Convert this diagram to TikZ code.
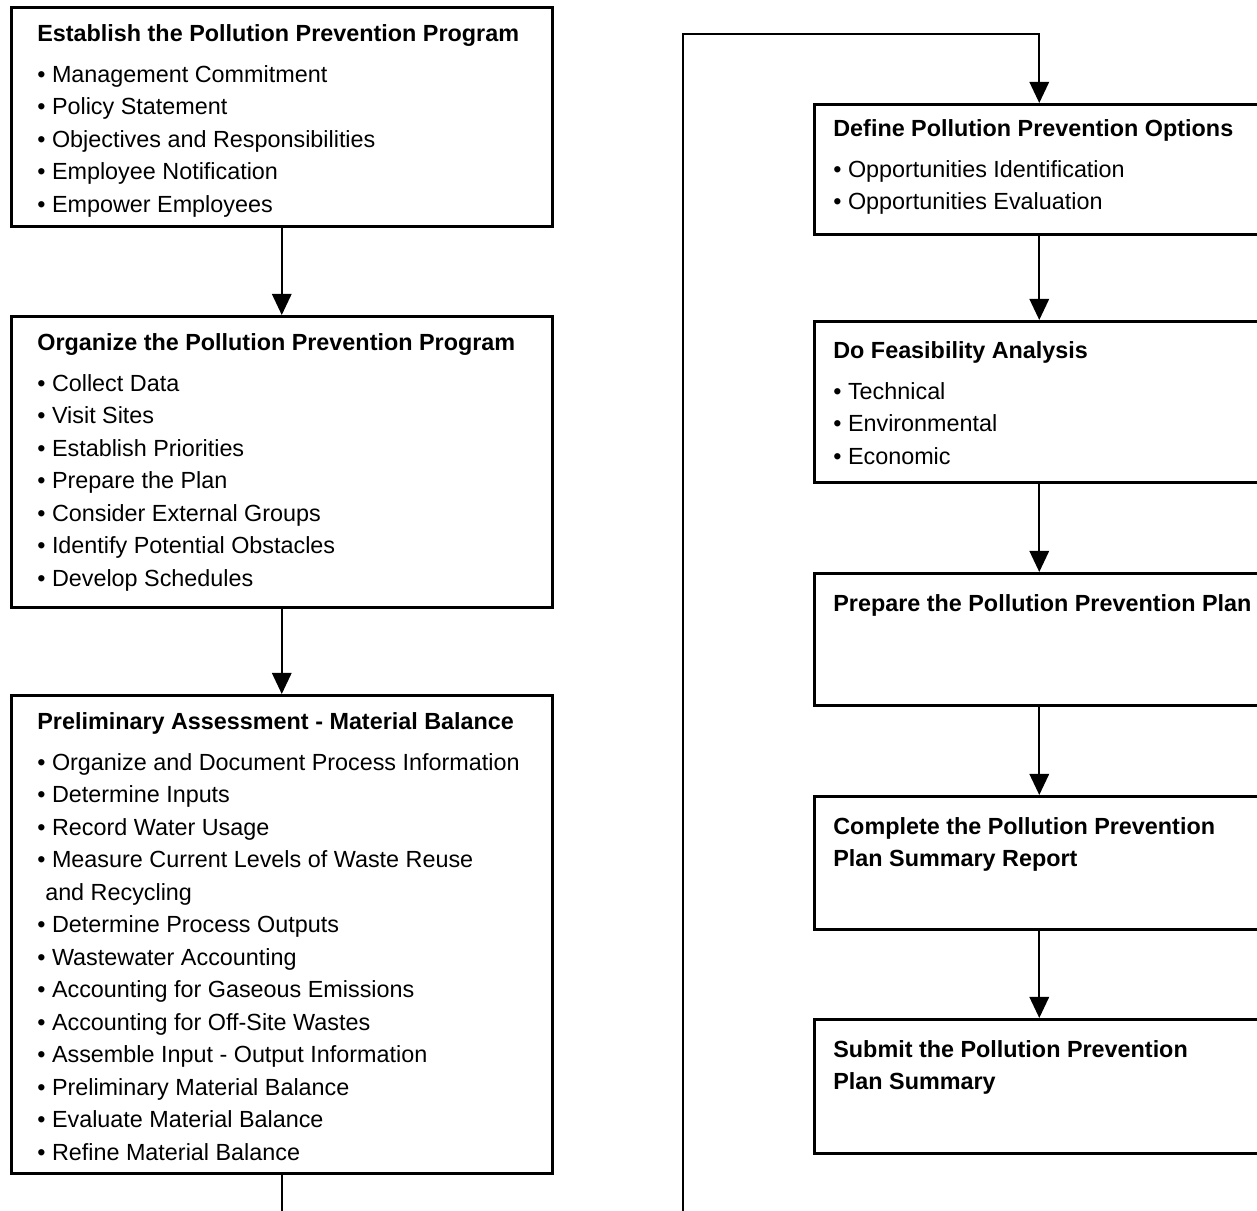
\documentclass[tikz,border=0pt]{standalone}
\usepackage{fontspec}
\setmainfont{Liberation Sans}
\usetikzlibrary{arrows.meta,positioning}
\newcommand\ppfont{\fontsize{13.3pt}{18.5pt}\selectfont}
\newcommand\bul{\textbullet\ }
\begin{document}
	\begin{tikzpicture}[x=.02cm,y=-.02cm,
		stage/.style={draw,line width=1.5pt,anchor=north west,inner sep=0pt},
		txt/.style={anchor=base west,inner sep=0pt,font=\ppfont},
		link/.style={line width=1.3pt,-{Triangle[length=12pt,width=11pt]}}]
		\def\LeftW{10.82cm}%左列宽度
		\def\RightW{9cm}%右列宽度
		\def\TitleGap{5pt}%标题下间距
		\useasboundingbox (0,0) rectangle (1257,1210);
		\clip (0,0) rectangle (1257,1210);
		% 左列
		\node[stage,minimum width=\LeftW,minimum height=4.38cm] (establish) at (10,6) {};
		\node[stage,minimum width=\LeftW,minimum height=5.82cm] (organize) at (10,315) {};
		\node[stage,minimum width=\LeftW,minimum height=9.56cm] (prelim) at (10,694) {};
		\node[txt] (establish-t) at ([shift={(27,35)}]establish.north west) {\parbox[t]{10cm}{%
			\textbf{Establish the Pollution Prevention Program}\\[\TitleGap]
			\bul Management Commitment\\
			\bul Policy Statement\\
			\bul Objectives and Responsibilities\\
			\bul Employee Notification\\
			\bul Empower Employees}};
		\node[txt] (organize-t) at ([shift={(27,35)}]organize.north west) {\parbox[t]{10cm}{%
			\textbf{Organize the Pollution Prevention Program}\\[\TitleGap]
			\bul Collect Data\\
			\bul Visit Sites\\
			\bul Establish Priorities\\
			\bul Prepare the Plan\\
			\bul Consider External Groups\\
			\bul Identify Potential Obstacles\\
			\bul Develop Schedules}};
		\node[txt] (prelim-t) at ([shift={(27,35)}]prelim.north west) {\parbox[t]{10cm}{%
			\textbf{Preliminary Assessment - Material Balance}\\[\TitleGap]
			\bul Organize and Document Process Information\\
			\bul Determine Inputs\\
			\bul Record Water Usage\\
			\bul Measure Current Levels of Waste Reuse\\
			\hspace*{4.5pt}and Recycling\\
			\bul Determine Process Outputs\\
			\bul Wastewater Accounting\\
			\bul Accounting for Gaseous Emissions\\
			\bul Accounting for Off-Site Wastes\\
			\bul Assemble Input - Output Information\\
			\bul Preliminary Material Balance\\
			\bul Evaluate Material Balance\\
			\bul Refine Material Balance}};
		% 右列
		\node[stage,minimum width=\RightW,minimum height=2.6cm] (define) at (813,103) {};
		\node[stage,minimum width=\RightW,minimum height=3.22cm] (feasib) at (813,320) {};
		\node[stage,minimum width=\RightW,minimum height=2.64cm] (plan) at (813,572) {};
		\node[stage,minimum width=\RightW,minimum height=2.66cm] (report) at (813,795) {};
		\node[stage,minimum width=\RightW,minimum height=2.68cm] (submit) at (813,1018) {};
		\node[txt] (define-t) at ([shift={(20,33)}]define.north west) {\parbox[t]{9cm}{%
			\textbf{Define Pollution Prevention Options}\\[\TitleGap]
			\bul Opportunities Identification\\
			\bul Opportunities Evaluation}};
		\node[txt] (feasib-t) at ([shift={(20,38)}]feasib.north west) {\parbox[t]{9cm}{%
			\textbf{Do Feasibility Analysis}\\[\TitleGap]
			\bul Technical\\
			\bul Environmental\\
			\bul Economic}};
		\node[txt] (plan-t) at ([shift={(20,39)}]plan.north west) {\parbox[t]{9cm}{%
			\textbf{Prepare the Pollution Prevention Plan}}};
		\node[txt] (report-t) at ([shift={(20,39)}]report.north west) {\parbox[t]{9cm}{%
			\textbf{Complete the Pollution Prevention}\\
			\textbf{Plan Summary Report}}};
		\node[txt] (submit-t) at ([shift={(20,39)}]submit.north west) {\parbox[t]{9cm}{%
			\textbf{Submit the Pollution Prevention}\\
			\textbf{Plan Summary}}};
		% 连线
		\draw[link] (establish) -- (organize);
		\draw[link] (organize) -- (prelim);
		\coordinate (loop) at (683,34);
		\draw[link] (prelim.south) -- ++(0,80) -| (loop) -| (define.north);
		\foreach \a/\b in {define/feasib,feasib/plan,plan/report,report/submit}
			\draw[link] (\a) -- (\b);
	\end{tikzpicture}
\end{document}
